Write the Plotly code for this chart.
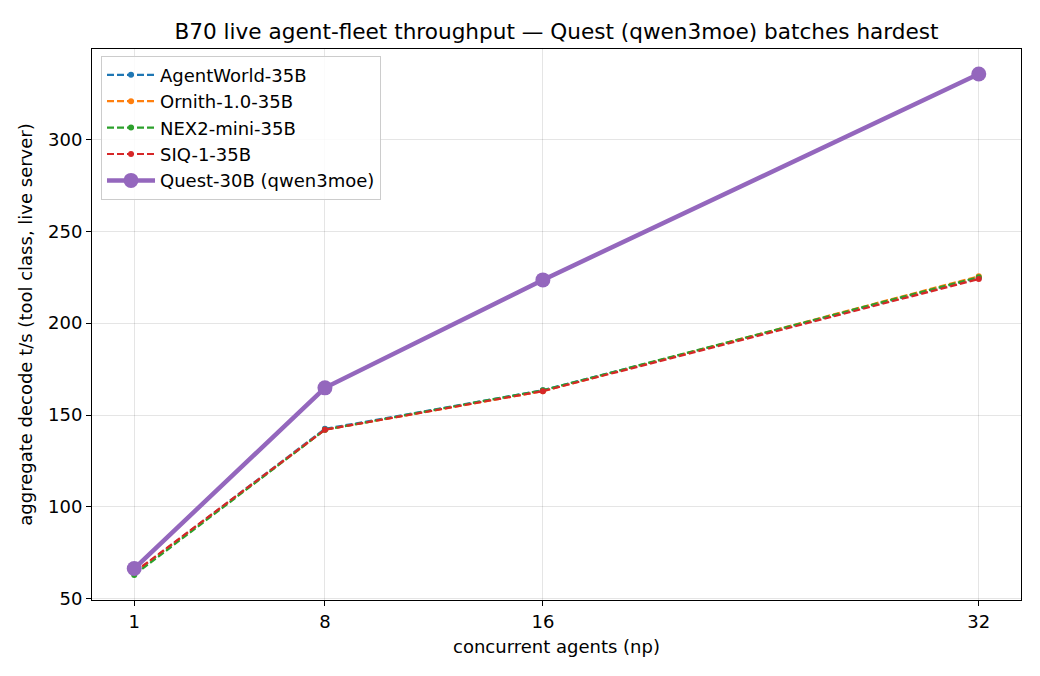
import plotly.graph_objects as go

np_agents = [1, 8, 16, 32]
agentworld = [64.0, 142.5, 163.5, 224.5]
ornith = [64.0, 142.0, 163.0, 225.5]
nex2 = [63.0, 142.0, 163.5, 225.0]
siq = [64.5, 142.0, 163.0, 224.0]
quest = [66.5, 164.8, 223.5, 335.5]

dashed_series = [
    ("AgentWorld-35B", agentworld, "#1f77b4"),
    ("Ornith-1.0-35B", ornith, "#ff7f0e"),
    ("NEX2-mini-35B", nex2, "#2ca02c"),
    ("SIQ-1-35B", siq, "#d62728"),
]

fig = go.Figure()
for name, vals, color in dashed_series:
    fig.add_trace(go.Scatter(
        x=np_agents, y=vals, name=name, mode="lines+markers",
        line=dict(color=color, width=2.2, dash="7px,3px"),
        marker=dict(color=color, size=6),
    ))
fig.add_trace(go.Scatter(
    x=np_agents, y=quest, name="Quest-30B (qwen3moe)", mode="lines+markers",
    line=dict(color="#9467bd", width=4.5),
    marker=dict(color="#9467bd", size=15),
))

font = "DejaVu Sans, Arial, sans-serif"
L, R, T, B = 84, 27, 41, 84
fig.update_layout(
    width=1040, height=676,
    margin=dict(l=L, r=R, t=T, b=B),
    paper_bgcolor="white", plot_bgcolor="white",
    font=dict(family=font, size=18, color="black"),
    title=dict(text="B70 live agent-fleet throughput — Quest (qwen3moe) batches hardest",
               x=(L + (1040 - R)) / 2 / 1040, xanchor="center", y=1 - 23 / 676, yanchor="middle",
               font=dict(size=21.6, family=font)),
    showlegend=True,
    legend=dict(x=0.0097, y=0.988, xanchor="left", yanchor="top",
                bgcolor="rgba(255,255,255,0.85)", bordercolor="#cccccc", borderwidth=1,
                font=dict(size=18, family=font), tracegroupgap=0, itemwidth=48),
)
fig.update_xaxes(
    range=[-0.55, 33.55], tickmode="array", tickvals=np_agents,
    ticktext=[str(v) for v in np_agents],
    showgrid=True, gridcolor="rgba(0,0,0,0.1)", gridwidth=1,
    showline=True, linecolor="black", linewidth=1, mirror=True,
    ticks="outside", ticklen=5, tickcolor="black", zeroline=False,
    title=dict(text="concurrent agents (np)", font=dict(size=18), standoff=9),
)
fig.update_yaxes(
    range=[49.4, 349.1], tickmode="array", tickvals=[50, 100, 150, 200, 250, 300],
    showgrid=True, gridcolor="rgba(0,0,0,0.1)", gridwidth=1,
    showline=True, linecolor="black", linewidth=1, mirror=True,
    ticks="outside", ticklen=5, tickcolor="black", zeroline=False,
    title=dict(text="aggregate decode t/s (tool class, live server)", font=dict(size=18), standoff=10),
)

fig.write_html("out.html")
